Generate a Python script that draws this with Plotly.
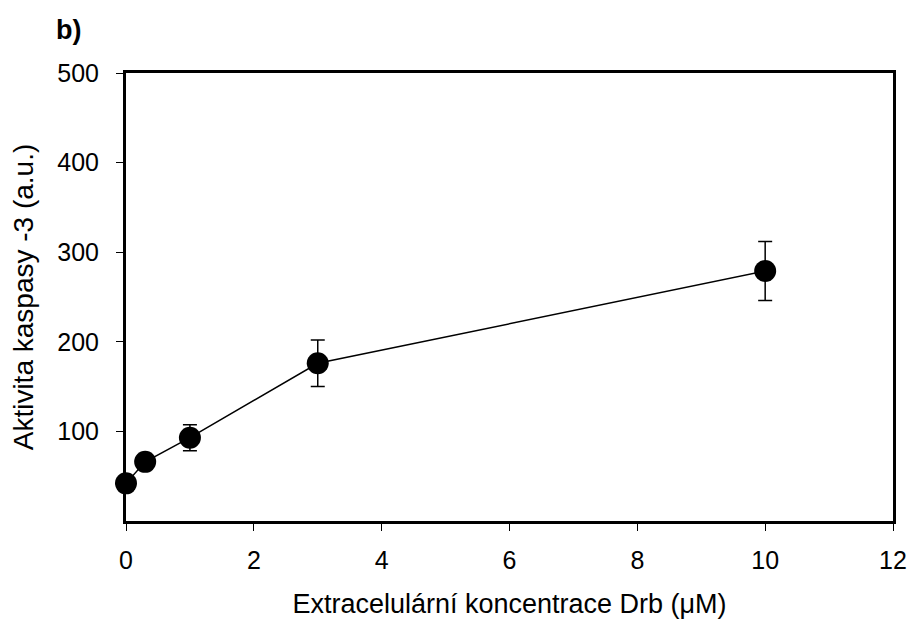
import plotly.graph_objects as go

conc = [0, 0.3, 1, 3, 10]
activity = [42, 66, 93, 176, 279]
err = [0, 0, 14.5, 26, 33]
x_ticks = [0, 2, 4, 6, 8, 10, 12]
y_ticks = [100, 200, 300, 400, 500]

fig = go.Figure()
fig.add_trace(go.Scatter(
    x=conc, y=activity, mode="lines+markers",
    line=dict(color="black", width=1.5),
    marker=dict(color="black", size=22),
    error_y=dict(type="data", array=err, visible=True, color="black", thickness=1.5, width=7),
    showlegend=False, cliponaxis=False,
))

font = "Liberation Sans, Arial, sans-serif"
W, H = 912, 626
L, T, R, B = 126, 73, 19, 105
fig.update_layout(
    width=W, height=H,
    paper_bgcolor="white", plot_bgcolor="white",
    margin=dict(l=L, r=R, t=T, b=B, autoexpand=False),
    font=dict(family=font, size=25, color="black"),
    xaxis=dict(range=[0, 12], tickvals=x_ticks, showgrid=False, zeroline=False,
               showline=True, linecolor="black", linewidth=3, mirror=True,
               ticks="outside", ticklen=7, tickwidth=1, tickcolor="black",
               ticklabelstandoff=8, tickfont=dict(size=25), ticklabeloverflow="allow",
               title=dict(text="Extracelulární koncentrace Drb (μM)", standoff=22,
                          font=dict(size=27))),
    yaxis=dict(range=[0, 500], tickvals=y_ticks, showgrid=False, zeroline=False,
               showline=True, linecolor="black", linewidth=3, mirror=True,
               ticks="outside", ticklen=7, tickwidth=1, tickcolor="black",
               ticklabelstandoff=12, tickfont=dict(size=25),
               title=dict(text="Aktivita kaspasy -3 (a.u.)", standoff=16,
                          font=dict(size=28))),
    annotations=[dict(text="<b>b)</b>", xref="paper", yref="paper",
                      x=(68 - L) / (W - L - R), y=(H - B - 30) / (H - T - B),
                      xanchor="center", yanchor="middle",
                      showarrow=False, font=dict(size=27))],
)
fig.write_html("out.html", config={"displayModeBar": False},
               post_script="document.body.style.margin='0';document.body.style.overflow='hidden';")
